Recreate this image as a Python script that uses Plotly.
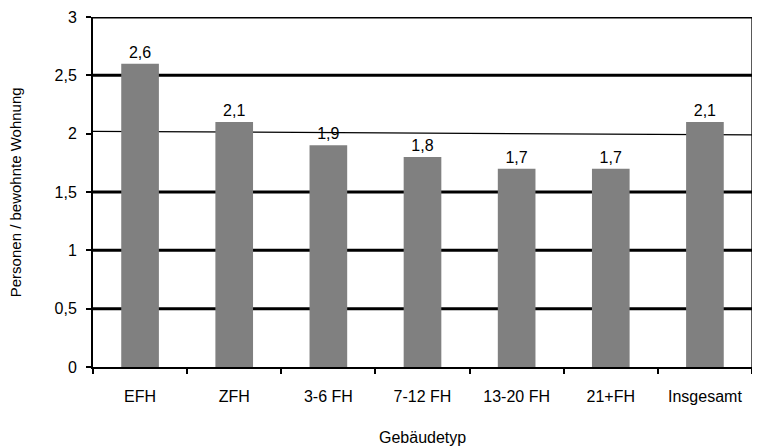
import plotly.graph_objects as go

categories = ["EFH", "ZFH", "3-6 FH", "7-12 FH", "13-20 FH", "21+FH", "Insgesamt"]
values = [2.6, 2.1, 1.9, 1.8, 1.7, 1.7, 2.1]
y_ticks = [0, 0.5, 1, 1.5, 2, 2.5, 3]
grid_lines = [0.5, 1, 1.5, 2.5, 3]
thin_line = [2]

font_family = "Liberation Sans, Arial, sans-serif"

fig = go.Figure()
fig.add_trace(go.Bar(
    x=categories, y=values,
    marker=dict(color="#808080", line=dict(width=0)),
    width=0.4,
    text=values, texttemplate="%{y:.1f}", textposition="outside",
    textfont=dict(size=16, color="black", family=font_family),
    cliponaxis=False,
))

shapes = []
for g in grid_lines:
    shapes.append(dict(type="line", xref="paper", x0=0, x1=1, yref="y", y0=g, y1=g,
                       line=dict(color="black", width=3), layer="below"))
for g in thin_line:
    shapes.append(dict(type="line", xref="paper", x0=0, x1=1, yref="y", y0=g + 0.02, y1=g - 0.01,
                       line=dict(color="black", width=1.3), layer="below"))
shapes.append(dict(type="line", xref="paper", x0=1, x1=1, yref="paper", y0=0, y1=1,
                   line=dict(color="black", width=1.3)))

# page has an 8px body margin, so the figure is 8px smaller than the window
fig.update_layout(
    width=752, height=439,
    margin=dict(l=85, r=8, t=9, b=80),
    paper_bgcolor="white", plot_bgcolor="white",
    separators=",.",
    showlegend=False,
    font=dict(family=font_family, size=16, color="black"),
    shapes=shapes,
    annotations=[
        dict(text="Gebäudetyp", xref="paper", x=0.5, yref="paper", y=-0.2,
             yanchor="middle", xanchor="center", showarrow=False, font=dict(size=16)),
        dict(text="Personen / bewohnte Wohnung", xref="paper", x=-0.118, yref="paper", y=0.5,
             yanchor="middle", xanchor="center", textangle=-90, showarrow=False, font=dict(size=15)),
    ],
)
fig.update_xaxes(
    automargin=False,
    showline=True, linecolor="black", linewidth=2,
    ticks="outside", tickson="boundaries", ticklen=5, tickwidth=2, tickcolor="black",
    showgrid=False,
    ticklabelstandoff=14,
    tickfont=dict(size=16),
)
fig.update_yaxes(
    automargin=False,
    range=[0, 3], tickvals=y_ticks, tickformat=".1~f",
    showline=True, linecolor="black", linewidth=2,
    ticks="outside", ticklen=5, tickwidth=1.5, tickcolor="black",
    showgrid=False, zeroline=False,
    ticklabelstandoff=6,
    tickfont=dict(size=16),
)

fig.write_html("out.html")
